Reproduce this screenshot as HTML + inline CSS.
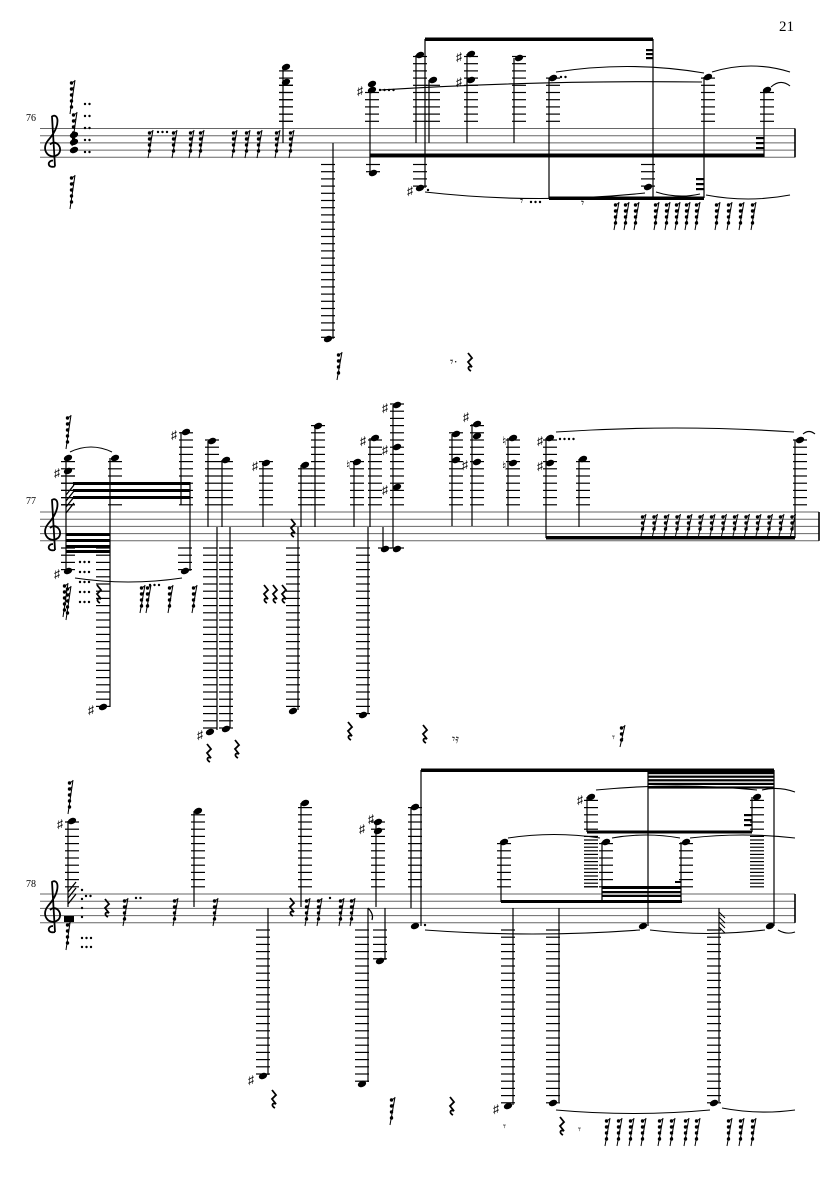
<!DOCTYPE html>
<html><head><meta charset="utf-8">
<style>
html,body{margin:0;padding:0;background:#fff;}
svg{display:block;}
text{font-family:"Liberation Serif","DejaVu Serif",serif;}
</style></head>
<body>
<svg id="s" width="835" height="1181" viewBox="0 0 835 1181" xmlns="http://www.w3.org/2000/svg">
<text x="779" y="31" font-size="15">21</text>
<text x="26" y="121" font-size="10">76</text>
<text x="26" y="504" font-size="10">77</text>
<text x="26" y="887" font-size="10">78</text>
</svg>
<script>
var svg=document.getElementById('s');var out='';
var SP=7.2;
function L(x1,y1,x2,y2,w,c){out+='<line x1="'+x1+'" y1="'+y1+'" x2="'+x2+'" y2="'+y2+'" stroke="'+(c||'#000')+'" stroke-width="'+(w||1.1)+'"/>';}
function R(x,y,w,h){out+='<rect x="'+x+'" y="'+y+'" width="'+w+'" height="'+h+'" fill="#000"/>';}
function H(x,y){out+='<ellipse cx="'+x+'" cy="'+y+'" rx="4.3" ry="3" transform="rotate(-22 '+x+' '+y+')" fill="#000"/>';}
function T(x,y,s,fs){out+='<text x="'+x+'" y="'+y+'" font-size="'+(fs||13)+'" font-family="DejaVu Sans,sans-serif">'+s+'</text>';}
function staff(t,x1,x2){for(var i=0;i<5;i++)L(x1,t+i*SP,x2,t+i*SP,1,'#666');L(x2,t,x2,t+4*SP,1.6);
 // clef
 out+='<path d="M55 '+(t+38)+' C47 '+(t+40)+' 47 '+(t+32)+' 53 '+(t+32)+' M55 '+(t+38)+' L52 '+(t-12)+' C58 '+(t-16)+' 62 '+(t-4)+' 48 '+(t+12)+' C40 '+(t+22)+' 50 '+(t+32)+' 58 '+(t+26)+' C64 '+(t+20)+' 56 '+(t+10)+' 50 '+(t+16)+'" fill="none" stroke="#000" stroke-width="1.8"/>';
}
function LG(hx,hy,t){var k,y;if(hy<t-4){for(k=1;;k++){y=t-k*SP;if(y<hy-1.5)break;L(hx-7,y,hx+7,y,1.2);}}
 else if(hy>t+4*SP+4){for(k=1;;k++){y=t+4*SP+k*SP;if(y>hy+1.5)break;L(hx-7,y,hx+7,y,1.2);}}}
function N(hx,hy,sx,sy,t){LG(hx,hy,t);H(hx,hy);if(sx!=null)L(sx,hy,sx,sy,1.2);}
function RG(x,y,n){n=n||4;L(x,y+n*6+4,x+5,y,1);for(var i=0;i<n;i++){var yy=y+3+i*6;out+='<circle cx="'+(x+1.5-i*0)+'" cy="'+(yy)+'" r="1.7"/>';L(x+2,yy,x+4.5-i*0.8+ (4-i)*0,yy-2,1);}}
function QR(x,y){out+='<path d="M'+x+' '+y+' l4 5 l-4 4 l4 5 c-4 -2 -5 2 -1 4" fill="none" stroke="#000" stroke-width="1.8"/>';}
function SL(x1,y1,x2,y2,h){var mx=(x1+x2)/2,my=(y1+y2)/2+h;out+='<path d="M'+x1+' '+y1+' Q'+mx+' '+my+' '+x2+' '+y2+'" fill="none" stroke="#000" stroke-width="1.1"/>';}
function D(x,y,n){for(var i=0;i<n;i++)out+='<circle cx="'+(x+i*4.5)+'" cy="'+y+'" r="1.2"/>';}
function SH(x,y){T(x-4,y+5,'♯',12);}
function NA(x,y){T(x-3,y+5,'♮',12);}

/* ===== STAFF 1 ===== */
var t=128.5;staff(t,40,795);
RG(70,80,5);RG(72,112,5);RG(70,175,5);for(var i=0;i<5;i++){D(85,104+i*12,2);}
H(74,135);H(74,142);H(74,150);
RG(148,130);RG(172,130);RG(189,130);RG(199,130);D(158,132,3);
RG(232,130);RG(245,130);RG(257,130);RG(275,130);RG(289,130);
N(286,67,283,143,t);N(286,82,null,0,t);
L(333,143,333,339,1.2);N(328,339,null,0,t);RG(337,352,4);
T(450,366,'𝄾·',13);QR(468,353);
N(372,90,370,155,t);H(372,84);SH(361,90);D(380,90,4);N(373,173,370,155,t);
R(425,37.5,228,3.5);
N(420,188,425,39,t);SH(411,190);D(428,190,1);
N(420,55,416,143,t);N(433,80,429,143,t);
N(471,54,467,143,t);H(471,80);SH(460,56);SH(460,81);
N(519,58,514,143,t);
N(553,78,549,198,t);D(561,77,2);
L(653,39,653,198,1.2);N(648,187,null,0,t);R(646,49,7,2.2);R(646,53,7,2.2);R(646,57,7,2.2);
N(708,77,704,198,t);R(696,178,8,2.2);R(696,183,8,2.2);R(696,188,8,2.2);
N(767,90,764,157,t);R(756,137,8,2.2);R(756,142,8,2.2);R(756,147,8,2.2);
R(370,153.5,394,3.5);R(549,196.5,155,3.5);
SL(380,90,702,82,-6);SL(556,72,704,73,-12);SL(712,72,790,72,-12);SL(771,87,790,86,-8);
SL(425,192,645,193,12);SL(656,192,700,194,6);SL(706,195,790,195,8);
T(520,205,'𝄾',12);D(531,202,3);T(581,207,'𝄾',12);
[614,624,634,654,665,675,685,695,715,727,739,751].forEach(function(x){RG(x,202,4);});

/* ===== STAFF 2 ===== */
t=512;staff(t,40,819);
RG(66,415,5);
N(68,458,66,553,t);N(68,471,null,0,t);SH(58,472);
out+='<path d="M66 495 l8 -10 M66 501 l8 -10 M66 507 l8 -10 M66 513 l8 -10" stroke="#000" stroke-width="1.3"/>';
R(73,482,117,3);R(73,489,117,3);R(73,496,117,3);
R(66,533,44,3);R(66,539,44,3);R(66,545,44,3);R(66,550,44,3);
N(115,458,110,707,t);SL(70,452,112,452,-10);
N(103,707,null,0,t);SH(92,709);
N(68,571,66,553,t);SH(58,573);N(185,571,190,482,t);SL(75,578,182,578,8);
for(i=0;i<5;i++)D(80,562+i*10,3);RG(63,583,5);RG(66,586,5);
QR(97,585);RG(140,585);RG(146,585);D(150,585,3);RG(168,585);RG(192,585);
N(186,432,181,505,t);SH(175,434);
N(212,441,208,527,t);N(226,460,222,527,t);
N(266,463,263,527,t);SH(256,465);
N(305,465,301,527,t);N(318,426,315,527,t);QR(291,519);
N(357,462,354,527,t);NA(349,464);
N(375,438,370,527,t);SH(364,440);
L(217,527,217,730,1.2);N(210,732,null,0,t);SH(201,734);
L(230,527,230,728,1.2);N(226,729,null,0,t);QR(207,744);QR(235,740);
L(298,527,298,710,1.2);N(293,711,null,0,t);
L(368,527,368,714,1.2);N(363,715,null,0,t);QR(348,722);
QR(264,585);QR(273,585);QR(282,585);
N(397,405,393,548,t);SH(386,407);H(397,447);SH(386,449);H(397,487);SH(386,489);
L(383,527,383,548,1.2);N(385,549,null,0,t);N(397,549,null,0,t);
N(456,434,452,526,t);H(456,460);
N(477,424,472,526,t);SH(467,416);H(477,436);H(477,462);SH(466,464);
N(513,438,508,526,t);NA(505,440);H(513,463);NA(505,465);
N(550,438,546,538,t);SH(541,440);D(560,439,4);H(550,463);SH(541,465);
N(583,459,579,527,t);
R(546,536,249,3.5);
SL(556,432,794,432,-8);SL(803,434,815,434,-5);
N(800,440,795,538,t);
for(i=0;i<14;i++){RG(641+i*11.5,514,3);}
QR(423,725);T(452,743,'𝄾𝄿',12);T(612,741,'𝄾',11);RG(620,725,3);

/* ===== STAFF 3 ===== */
t=894;staff(t,40,795);
RG(68,780,5);
N(72,821,68,907,t);SH(61,823);
out+='<path d="M68 892 l8 -10 M68 898 l8 -10 M68 904 l8 -10" stroke="#000" stroke-width="1.3"/>';
RG(66,916,5);R(64,916,10,6);for(i=0;i<4;i++)D(82,890+i*9,1);D(82,938,3);D(82,947,3);D(86,896,2);
QR(105,899);RG(123,898);D(136,898,2);RG(173,898);RG(213,898);
N(198,811,194,907,t);
L(268,908,268,1075,1.2);N(263,1076,null,0,t);SH(252,1079);QR(272,1090);
QR(290,898);N(305,803,301,907,t);
RG(305,898);RG(317,898);D(330,898,1);RG(339,898);RG(350,898);
N(378,822,376,907,t);H(378,831);SH(363,828);SH(372,818);
L(368,908,368,1082,1.2);N(362,1084,null,0,t);out+='<path d="M368 908 q6 6 4 12" fill="none" stroke="#000" stroke-width="1.2"/>';
L(385,908,385,960,1.2);N(380,961,null,0,t);
RG(390,1097);
N(415,807,411,908,t);
N(415,926,421,770,t);D(425,925,1);
R(421,768.5,353,3.5);
for(i=0;i<5;i++)R(648,772+i*3.6,126,2.2);
L(648,770,648,926,1.2);N(643,926,null,0,t);
L(774,770,774,926,1.2);N(770,926,null,0,t);
N(591,797,587,832,t);SH(581,799);
R(587,830.5,165,3);
N(757,797,752,832,t);R(744,814,8,2.2);R(744,819,8,2.2);R(744,824,8,2.2);
LG(591,888,t);for(var y=840;y<=888;y+=7.2)L(584,y,598,y,1.2);for(y=840;y<=888;y+=7.2)L(750,y,764,y,1.2);
N(504,842,501,902,t);R(501,900,181,3);
N(606,842,602,902,t);R(602,886,79,3);R(602,891,79,2);R(602,895,79,2);R(675,881,6,2);
N(686,842,681,902,t);
L(513,908,513,1105,1.2);N(508,1106,null,0,t);SH(497,1108);T(503,1130,'𝄾',11);
L(559,908,559,1102,1.2);N(553,1103,null,0,t);
L(719,908,719,1102,1.2);N(714,1103,null,0,t);
out+='<path d="M719 912 l6 6 M719 917 l6 6 M719 922 l6 6 M719 927 l6 6" stroke="#000" stroke-width="1"/>';
SL(596,790,757,790,-8);SL(762,790,795,792,-5);
SL(508,838,600,838,-7);SL(612,838,680,838,-6);SL(690,838,795,838,-6);
SL(425,930,640,930,8);SL(650,930,765,930,7);SL(778,930,795,932,4);
SL(556,1110,710,1110,7);SL(722,1108,795,1110,6);
QR(450,1097);QR(560,1117);T(578,1133,'𝄾',11);
[605,617,629,641,658,670,684,695,727,739,751].forEach(function(x){RG(x,1118,4);});
svg.insertAdjacentHTML('beforeend',out);
</script>
</body></html>
